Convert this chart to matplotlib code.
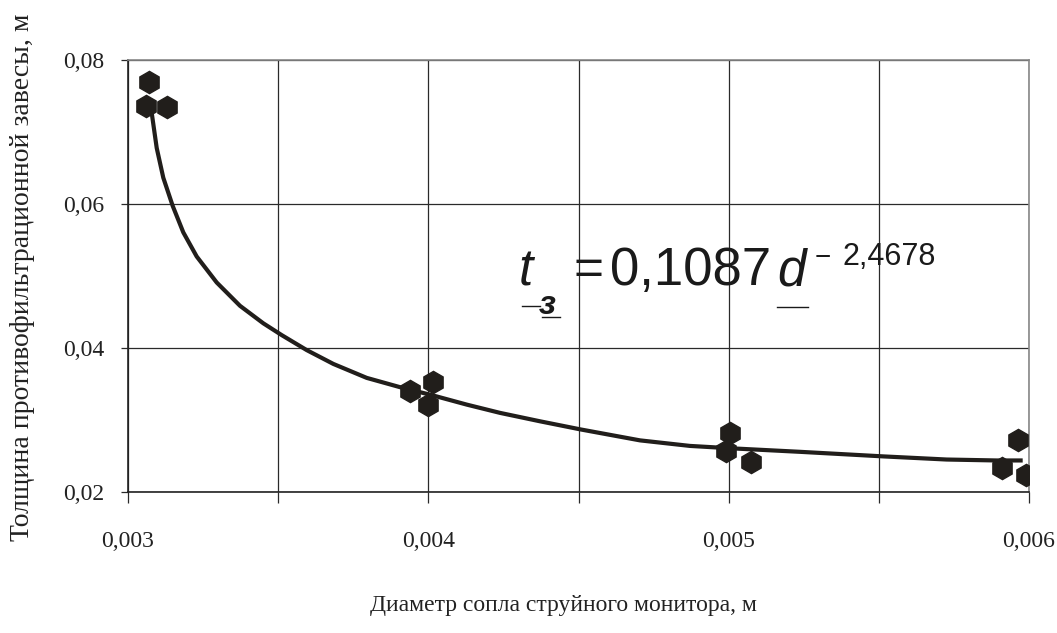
import numpy as np
import matplotlib
matplotlib.use("Agg")
import matplotlib.pyplot as plt
from matplotlib.lines import Line2D
from matplotlib.ticker import MultipleLocator, FixedLocator, FuncFormatter

# measured points: nozzle diameter (m) and curtain thickness (m)
d_pts = [0.00307, 0.00306, 0.00313,
         0.00394, 0.004015, 0.0040,
         0.005004, 0.00499, 0.005074,
         0.005965, 0.005909, 0.00599]
t_pts = [0.0769, 0.0736, 0.0735,
         0.0340, 0.0353, 0.0321,
         0.0282, 0.0257, 0.0242,
         0.0272, 0.0234, 0.0224]

# smoothed trend line
d_line = [0.003079, 0.0030956, 0.0031175, 0.0031488, 0.0031841, 0.0032287,
          0.0032953, 0.0033729, 0.0034505, 0.0035118, 0.0035950, 0.0036836,
          0.0037948, 0.0039057, 0.0040112, 0.0041277, 0.0042386, 0.0043718,
          0.0045083, 0.0047048, 0.0048712, 0.0050121, 0.0052375, 0.0055172,
          0.0057259, 0.0058924, 0.0059790]
t_line = [0.07264, 0.06778, 0.06365, 0.05974, 0.05606, 0.05271,
          0.04910, 0.04586, 0.04343, 0.04179, 0.03971, 0.03779,
          0.03585, 0.03456, 0.03346, 0.03214, 0.03099, 0.02982,
          0.02868, 0.02717, 0.02640, 0.02606, 0.02558, 0.02494,
          0.02451, 0.02438, 0.02438]

x_ticks = [0.003, 0.004, 0.005, 0.006]
y_ticks = [0.02, 0.04, 0.06, 0.08]

W, H = 1057, 633
fig = plt.figure(figsize=(W / 100, H / 100), dpi=100)
ax = fig.add_axes([128 / W, 1 - 492 / H, (1029 - 128) / W, (492 - 60) / H])

serif = "Liberation Serif"
ink = "#211e1b"

ax.set_xlim(0.003, 0.006)
ax.set_ylim(0.02, 0.08)

ax.plot(d_line, t_line, color=ink, lw=3, solid_capstyle="butt",
        solid_joinstyle="round", zorder=3)
ax.plot(d_pts, t_pts, linestyle="none", marker="h", ms=16, color=ink,
        markeredgecolor=ink, zorder=4)

comma = FuncFormatter(lambda v, p: ("%g" % round(v, 4)).replace(".", ","))
ax.xaxis.set_major_locator(FixedLocator(x_ticks))
ax.xaxis.set_minor_locator(MultipleLocator(0.0005))
ax.yaxis.set_major_locator(FixedLocator(y_ticks))
ax.xaxis.set_major_formatter(comma)
ax.yaxis.set_major_formatter(comma)

ax.grid(True, which="both", axis="x", color="#2a2a2a", lw=0.9)
ax.grid(True, which="major", axis="y", color="#2a2a2a", lw=0.9)
ax.tick_params(axis="x", which="both", direction="out", length=8, width=0.9,
               color="#2a2a2a", pad=20)
ax.tick_params(axis="y", direction="out", length=5, width=0.9,
               color="#2a2a2a", pad=12)
for lab in ax.get_xticklabels() + ax.get_yticklabels():
    lab.set_fontfamily(serif)
    lab.set_fontsize(17)
    lab.set_color("#222222")

for s in ["left", "bottom"]:
    ax.spines[s].set_color("#222222")
    ax.spines[s].set_linewidth(1.2)
for s in ["top", "right"]:
    ax.spines[s].set_color("#888888")
    ax.spines[s].set_linewidth(1.2)

fig.text(563 / W, 1 - 606 / H, "Диаметр сопла струйного монитора, м",
         family=serif, fontsize=17, color="#222222", ha="center", va="center")
fig.text(23 / W, 1 - 277 / H, "Толщина противофильтрационной завесы, м",
         family=serif, fontsize=20, color="#222222", ha="center", va="center",
         rotation=90)


def put(x, y, s, **kw):
    fig.text(x / W, 1 - y / H, s, ha="left", va="baseline", color="#1a1a1a",
             family="Liberation Sans", **kw)


def underline(x0, x1, y):
    fig.add_artist(Line2D([x0 / W, x1 / W], [1 - y / H, 1 - y / H],
                          transform=fig.transFigure, color="#1a1a1a", lw=1))


put(519, 285, "t", fontsize=37, style="italic")
put(539, 314, "з", fontsize=24, style="italic", weight="bold")
put(574, 285, "=", fontsize=37)
put(610, 285, "0,1087", fontsize=38)
put(777, 285, "d", fontsize=37, style="italic")
put(815, 265, "\u2212", fontsize=20)
put(842, 265, "2,4678", fontsize=22)
underline(522, 540, 306)
underline(542, 560, 317)
underline(777, 808, 307)

fig.savefig("out.png", dpi=100)
